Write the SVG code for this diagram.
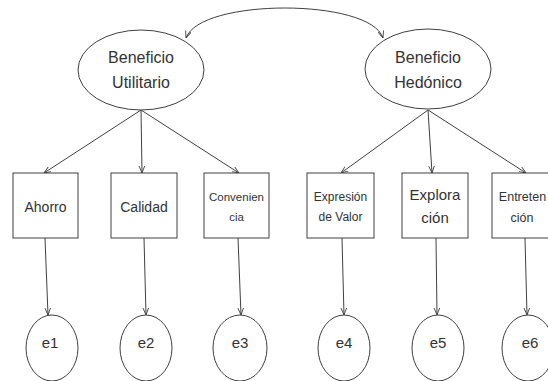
<svg xmlns="http://www.w3.org/2000/svg" width="548" height="381" viewBox="0 0 548 381">
<defs>
<marker id="arr" viewBox="0 0 10 10" refX="10" refY="5" markerWidth="7" markerHeight="7" orient="auto-start-reverse" markerUnits="userSpaceOnUse">
<path d="M0,1 L10,5 L0,9" fill="none" stroke="#404040" stroke-width="1.3"/>
</marker>
<style>
.shape{fill:#fff;stroke:#404040;stroke-width:1}
.t{font-family:"Liberation Sans",Arial,sans-serif;fill:#333;text-anchor:middle}
.c{fill:none;stroke:#404040;stroke-width:1;marker-end:url(#arr)}
</style>
</defs>
<rect width="548" height="381" fill="#fff"/>
<g id="connectors">
<path class="c" d="M186,38 C200,-2 370,-2 383,38" style="marker-start:url(#arr)"/>
<line class="c" x1="141" y1="110" x2="44" y2="173"/>
<line class="c" x1="141" y1="110" x2="142" y2="173"/>
<line class="c" x1="141" y1="110" x2="239" y2="173"/>
<line class="c" x1="428" y1="110" x2="341" y2="173"/>
<line class="c" x1="428" y1="110" x2="432" y2="173"/>
<line class="c" x1="428" y1="110" x2="526" y2="173"/>
<line class="c" x1="45" y1="238" x2="48" y2="315"/>
<line class="c" x1="144" y1="238" x2="146" y2="315"/>
<line class="c" x1="238" y1="238" x2="241" y2="315"/>
<line class="c" x1="342" y1="238" x2="344" y2="315"/>
<line class="c" x1="436" y1="238" x2="437" y2="315"/>
<line class="c" x1="525" y1="238" x2="527" y2="315"/>
</g>
<g id="utilitario">
<ellipse class="shape" cx="141" cy="70" rx="63" ry="40"/>
<text class="t" x="141" y="63" font-size="16">Beneficio</text>
<text class="t" x="141" y="88" font-size="16">Utilitario</text>
</g>
<g id="hedonico">
<ellipse class="shape" cx="428" cy="69" rx="63" ry="40"/>
<text class="t" x="428" y="63" font-size="16">Beneficio</text>
<text class="t" x="428" y="88" font-size="16">Hedónico</text>
</g>
<g id="ahorro">
<rect class="shape" x="13" y="173" width="65" height="65"/>
<text class="t" x="45.5" y="212" font-size="14">Ahorro</text>
</g>
<g id="calidad">
<rect class="shape" x="111" y="173" width="66" height="65"/>
<text class="t" x="144" y="212" font-size="14">Calidad</text>
</g>
<g id="conveniencia">
<rect class="shape" x="204" y="173" width="65" height="65"/>
<text class="t" x="236.5" y="201" font-size="11.5">Convenien</text>
<text class="t" x="236.5" y="221" font-size="11.5">cia</text>
</g>
<g id="expresion">
<rect class="shape" x="307" y="173" width="67" height="65"/>
<text class="t" x="340.5" y="201" font-size="12">Expresión</text>
<text class="t" x="340.5" y="221" font-size="12">de Valor</text>
</g>
<g id="exploracion">
<rect class="shape" x="402" y="173" width="66" height="65"/>
<text class="t" x="435" y="200" font-size="15">Explora</text>
<text class="t" x="435" y="223" font-size="15">ción</text>
</g>
<g id="entretencion">
<rect class="shape" x="492" y="173" width="66" height="65"/>
<text class="t" x="522.5" y="201" font-size="12.5">Entreten</text>
<text class="t" x="522" y="222" font-size="12.5">ción</text>
</g>
<g id="e1">
<ellipse class="shape" cx="52" cy="348" rx="26" ry="33"/>
<text class="t" x="50" y="348" font-size="15">e1</text>
</g>
<g id="e2">
<ellipse class="shape" cx="146" cy="348" rx="26" ry="33"/>
<text class="t" x="146" y="348" font-size="15">e2</text>
</g>
<g id="e3">
<ellipse class="shape" cx="240" cy="348" rx="27" ry="33"/>
<text class="t" x="240" y="348" font-size="15">e3</text>
</g>
<g id="e4">
<ellipse class="shape" cx="344" cy="348" rx="26" ry="33"/>
<text class="t" x="344" y="348" font-size="15">e4</text>
</g>
<g id="e5">
<ellipse class="shape" cx="438" cy="348" rx="26" ry="33"/>
<text class="t" x="438" y="348" font-size="15">e5</text>
</g>
<g id="e6">
<ellipse class="shape" cx="528" cy="348" rx="26" ry="33"/>
<text class="t" x="530" y="348" font-size="15">e6</text>
</g>
</svg>
